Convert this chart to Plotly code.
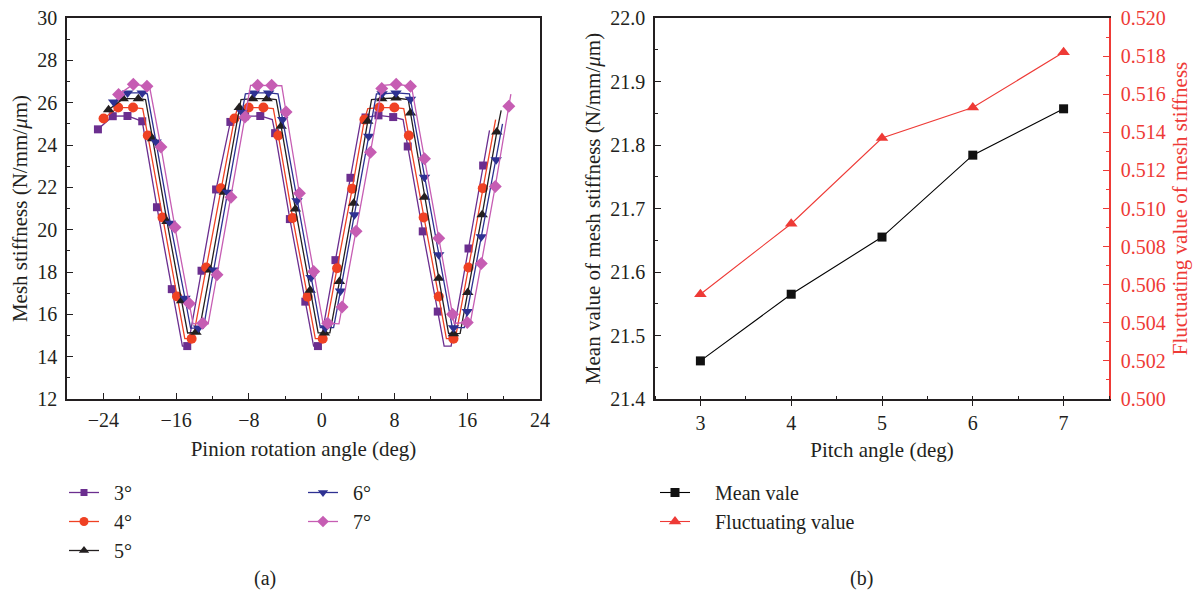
import plotly.graph_objects as go

# ---------------- (a) Mesh stiffness vs pinion rotation angle ----------------
# marker points (x in deg, y in N/mm/um)
a3_x = [-24.6, -22.97, -21.35, -19.73, -18.11, -16.48, -14.78, -13.21, -11.61, -10.04, -8.42, -6.75,
        -5.12, -3.5, -1.8, -0.41, 1.51, 3.16, 4.82, 6.24, 7.86, 9.46, 11.11, 12.76, 14.4, 16.14, 17.75]
a3_y = [24.74, 25.36, 25.37, 25.12, 21.06, 17.19, 14.5, 18.06, 21.9, 25.09, 25.36, 25.37,
        24.56, 20.5, 16.6, 14.5, 18.56, 22.45, 25.3, 25.4, 25.32, 23.93, 19.92, 16.13, 14.95, 19.11, 23.03]
# extra line vertices (corners of plateaus / flat bottoms, line end)
a3_cx = [-15.31, -14.70, -5.43, -0.89, -0.2, 4.31, 8.95, 13.46, 14.23, 18.45]
a3_cy = [14.5, 14.5, 25.2, 14.5, 14.5, 25.2, 25.2, 14.5, 14.5, 24.69]

a4_x = [-23.98, -22.37, -20.74, -19.12, -17.5, -15.9, -14.3, -12.69, -11.07, -9.59, -8.03, -6.41,
        -4.77, -3.19, -1.54, 0.11, 1.69, 3.35, 4.7, 6.34, 7.99, 9.58, 11.21, 12.87, 14.49, 16.14, 17.71]
a4_y = [25.25, 25.77, 25.77, 24.45, 20.58, 16.84, 14.85, 18.21, 21.96, 25.25, 25.77, 25.77,
        24.45, 20.55, 16.83, 14.85, 18.18, 21.93, 25.2, 25.77, 25.77, 24.45, 20.58, 16.84, 14.85, 18.21, 21.96]
a4_cx = [-19.68, -15.05, -14.15, -9.27, -5.32, -0.70, 0.26, 5.07, 9.02, 13.71, 14.69, 19.12]
a4_cy = [25.72, 14.85, 14.85, 25.72, 25.72, 14.85, 14.85, 25.72, 25.72, 14.85, 14.85, 25.2]

a5_x = [-23.43, -21.82, -20.16, -18.59, -17.01, -15.4, -13.82, -12.24, -10.7, -9.06, -7.59, -6.0,
        -4.46, -2.89, -1.27, 0.3, 1.95, 3.52, 5.06, 6.6, 8.17, 9.76, 11.3, 12.87, 14.49, 16.06, 17.64, 19.25]
a5_y = [25.67, 26.19, 26.19, 24.3, 20.39, 16.64, 15.15, 18.09, 21.77, 25.77, 26.19, 26.19,
        24.88, 20.98, 17.14, 15.12, 17.55, 21.25, 25.12, 26.19, 26.22, 25.51, 21.53, 17.71, 15.08, 17.03, 20.71, 24.61]
a5_cx = [-19.37, -14.74, -13.51, -8.87, -5.0, -0.39, 0.9, 5.48, 9.51, 13.95, 15.22, 19.73]
a5_cy = [26.15, 15.12, 15.12, 26.15, 26.15, 15.12, 15.12, 26.15, 26.15, 15.1, 15.1, 25.64]

a6_x = [-22.87, -21.34, -19.73, -18.21, -16.64, -15.03, -13.54, -11.88, -10.35, -8.76, -7.4, -5.83,
        -4.29, -2.71, -1.17, 0.41, 2.06, 3.6, 5.17, 6.64, 8.17, 9.76, 11.3, 12.87, 14.49, 16.0, 17.54, 19.18]
a6_y = [26.03, 26.46, 26.46, 24.14, 20.3, 16.76, 15.35, 18.09, 21.77, 25.53, 26.46, 26.46,
        25.2, 21.37, 17.74, 15.37, 17.1, 20.71, 24.41, 26.42, 26.46, 26.16, 22.48, 18.82, 15.37, 16.13, 19.67, 23.3]
a6_cx = [-19.17, -14.41, -13.0, -8.39, -4.80, -0.15, 1.31, 6.02, 9.65, 14.36, 15.67, 19.88]
a6_cy = [26.42, 15.35, 15.35, 26.42, 26.42, 15.37, 15.37, 26.42, 26.42, 15.37, 15.37, 25.0]

a7_x = [-22.33, -20.71, -19.21, -17.67, -16.13, -14.56, -13.09, -11.51, -9.97, -8.43, -7.04, -5.5,
        -3.92, -2.45, -0.88, 0.66, 2.24, 3.78, 5.36, 6.6, 8.19, 9.76, 11.3, 12.87, 14.38, 16.0, 17.54, 19.08, 20.57]
a7_y = [26.38, 26.87, 26.78, 23.9, 20.11, 16.51, 15.58, 17.87, 21.53, 25.32, 26.82, 26.82,
        25.56, 21.72, 18.02, 15.58, 16.35, 19.92, 23.66, 26.67, 26.87, 26.78, 23.35, 19.6, 16.0, 15.61, 18.4, 22.04, 25.83]
a7_cx = [-18.92, -14.14, -12.48, -7.82, -4.39, 0.16, 1.9, 6.75, 9.89, 14.56, 16.33, 20.8]
a7_cy = [26.75, 15.55, 15.55, 26.82, 26.8, 15.55, 15.55, 26.82, 26.72, 15.58, 15.58, 26.4]

a_names = ["3°", "4°", "5°", "6°", "7°"]
a_x_ticks = [-24, -16, -8, 0, 8, 16, 24]
a_y_ticks = [12, 14, 16, 18, 20, 22, 24, 26, 28, 30]

# ---------------- (b) Mean / fluctuating value vs pitch angle ----------------
pitch = [3, 4, 5, 6, 7]
mean_val = [21.46, 21.565, 21.655, 21.784, 21.857]
fluct_val = [0.5055, 0.5092, 0.5137, 0.5153, 0.5182]
b_names = ["Mean vale", "Fluctuating value"]

FONT = "Liberation Serif, Times New Roman, serif"
TXT = "#231f20"
RED = "#ee3a36"
NB = "\u00a0"

a_series = [
    (a3_x, a3_y, a3_cx, a3_cy, "#6b2e8f", "square", 8, "legend"),
    (a4_x, a4_y, a4_cx, a4_cy, "#ef4123", "circle", 10, "legend"),
    (a5_x, a5_y, a5_cx, a5_cy, "#231f20", "triangle-up", 10, "legend"),
    (a6_x, a6_y, a6_cx, a6_cy, "#2e3192", "triangle-down", 10, "legend2"),
    (a7_x, a7_y, a7_cx, a7_cy, "#c65db3", "diamond", 10, "legend2"),
]

fig = go.Figure()
for name, (mx, my, cx, cy, col, sym, ms, lg) in zip(a_names, a_series):
    pts = sorted(zip(mx + cx, my + cy))
    fig.add_trace(go.Scatter(x=[p[0] for p in pts], y=[p[1] for p in pts], mode="lines",
                             line=dict(color=col, width=1.3), showlegend=False,
                             hoverinfo="skip", xaxis="x", yaxis="y"))
    fig.add_trace(go.Scatter(x=mx, y=my, mode="markers", showlegend=False,
                             marker=dict(symbol=sym, size=ms, color=col, line=dict(width=0)),
                             xaxis="x", yaxis="y"))
    fig.add_trace(go.Scatter(x=[None], y=[None], mode="lines+markers", name=NB * 2 + name, legend=lg,
                             line=dict(color=col, width=1.3),
                             marker=dict(symbol=sym, size=ms - 1, color=col, line=dict(width=0)),
                             xaxis="x", yaxis="y"))

fig.add_trace(go.Scatter(x=pitch, y=mean_val, mode="lines+markers", name=NB * 4 + b_names[0],
                         legend="legend3",
                         line=dict(color="#000000", width=1.1),
                         marker=dict(symbol="square", size=9, color="#111111"),
                         xaxis="x2", yaxis="y2"))
fig.add_trace(go.Scatter(x=pitch, y=fluct_val, mode="lines+markers", name=NB * 4 + b_names[1],
                         legend="legend3",
                         line=dict(color=RED, width=1.1),
                         marker=dict(symbol="triangle-up", size=11, color=RED),
                         xaxis="x2", yaxis="y3"))

TS = 20
tickfont = dict(family=FONT, size=TS, color=TXT)
titlefont = dict(family=FONT, size=21, color=TXT)
legfont = dict(family=FONT, size=20, color=TXT)

Y0, Y1 = 1 - 399 / 595, 1 - 18 / 595
fig.update_layout(
    width=1202, height=595, margin=dict(l=0, r=0, t=0, b=0),
    paper_bgcolor="white", plot_bgcolor="white",
    font=dict(family=FONT, size=TS, color=TXT),
    xaxis=dict(domain=[67 / 1202, 540 / 1202], range=[-28, 24], tickvals=a_x_ticks,
               ticks="inside", ticklen=6, tickwidth=1.3, tickcolor=TXT,
               minor=dict(dtick=4, ticks="inside", ticklen=3, tickwidth=1.2, tickcolor=TXT),
               showline=True, linecolor=TXT, linewidth=1.5, mirror=True, showgrid=False,
               zeroline=False, tickfont=tickfont, ticklabelstandoff=2, automargin=False,
               title=dict(text="Pinion rotation angle (deg)", font=titlefont, standoff=12),
               anchor="y"),
    yaxis=dict(domain=[Y0, Y1], range=[12, 30], tickvals=a_y_ticks,
               ticks="inside", ticklen=6, tickwidth=1.3, tickcolor=TXT,
               minor=dict(dtick=1, ticks="inside", ticklen=3, tickwidth=1.2, tickcolor=TXT),
               showline=True, linecolor=TXT, linewidth=1.5, mirror=True, showgrid=False,
               zeroline=False, tickfont=tickfont, ticklabelstandoff=4, automargin=False,
               title=dict(text="Mesh stiffness (N/mm/<i>μ</i>m)", font=titlefont, standoff=4),
               anchor="x"),
    xaxis2=dict(domain=[655 / 1202, 1109 / 1202], range=[2.5, 7.5], tickvals=pitch,
                ticks="outside", ticklen=5, tickwidth=1.3, tickcolor=TXT,
                minor=dict(dtick=0.5, ticks="inside", ticklen=3, tickwidth=1.2, tickcolor=TXT),
                showline=True, linecolor=TXT, linewidth=1.5, mirror=True, showgrid=False,
                zeroline=False, tickfont=tickfont, automargin=False,
                title=dict(text="Pitch angle (deg)", font=titlefont, standoff=10),
                anchor="y2"),
    yaxis2=dict(domain=[Y0, Y1], range=[21.4, 22.0], dtick=0.1, tick0=21.4, tickformat=".1f",
                ticks="inside", ticklen=6, tickwidth=1.3, tickcolor=TXT,
                minor=dict(dtick=0.05, ticks="inside", ticklen=3, tickwidth=1.2, tickcolor=TXT),
                showline=True, linecolor=TXT, linewidth=1.5, showgrid=False,
                zeroline=False, tickfont=tickfont, ticklabelstandoff=4, automargin=False,
                title=dict(text="Mean value of mesh stiffness (N/mm/<i>μ</i>m)", font=titlefont,
                           standoff=4),
                anchor="x2"),
    yaxis3=dict(domain=[Y0, Y1], range=[0.5, 0.52], dtick=0.002, tick0=0.5, tickformat=".3f",
                overlaying="y2", side="right", anchor="x2",
                ticks="inside", ticklen=6, tickwidth=1.3, tickcolor=RED,
                minor=dict(dtick=0.001, ticks="inside", ticklen=3, tickwidth=1.2, tickcolor=RED),
                showline=True, linecolor=RED, linewidth=1.5, showgrid=False, automargin=False,
                zeroline=False, tickfont=dict(family=FONT, size=TS, color=RED), ticklabelstandoff=6,
                title=dict(text="Fluctuating value of mesh stiffness",
                           font=dict(family=FONT, size=21, color=RED), standoff=8)),
    legend=dict(x=64 / 1202, y=1 - 473 / 595, xanchor="left", yanchor="top",
                font=legfont, bgcolor="rgba(0,0,0,0)", tracegroupgap=0, itemwidth=30),
    legend2=dict(x=303 / 1202, y=1 - 473 / 595, xanchor="left", yanchor="top",
                 font=legfont, bgcolor="rgba(0,0,0,0)", tracegroupgap=0, itemwidth=30),
    legend3=dict(x=655 / 1202, y=1 - 473 / 595, xanchor="left", yanchor="top",
                 font=legfont, bgcolor="rgba(0,0,0,0)", tracegroupgap=0, itemwidth=30),
    annotations=[
        dict(text="(a)", x=265 / 1202, y=1 - 578 / 595, xref="paper", yref="paper",
             xanchor="center", yanchor="middle",
             showarrow=False, font=dict(family=FONT, size=20, color=TXT)),
        dict(text="(b)", x=861 / 1202, y=1 - 578 / 595, xref="paper", yref="paper",
             xanchor="center", yanchor="middle",
             showarrow=False, font=dict(family=FONT, size=20, color=TXT)),
    ],
)

fig.write_html("out.html")
